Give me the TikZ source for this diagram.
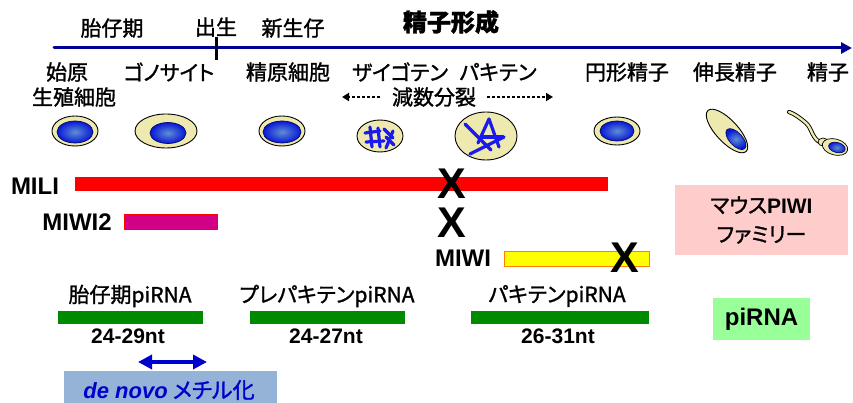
\documentclass[tikz,border=0pt]{standalone}
\usepackage{fontspec}
\setmainfont{Noto Sans CJK JP}[RawFeature={+palt;embolden=1.3}]
\newfontfamily\arialfont{Liberation Sans}
\usetikzlibrary{arrows.meta}

\definecolor{timeblue}{HTML}{000099}
\definecolor{cellyellow}{HTML}{EEE9AE}
\definecolor{nucblue}{HTML}{0818D8}
\definecolor{nuclight}{HTML}{5E8ED2}
\definecolor{chromblue}{HTML}{1A1AF0}
\definecolor{milired}{HTML}{FF0000}
\definecolor{miwiipink}{HTML}{D10087}
\definecolor{miwiyellow}{HTML}{FFFF00}
\definecolor{pirnagreen}{HTML}{008A00}
\definecolor{familypink}{HTML}{FFCCCC}
\definecolor{pirnakey}{HTML}{99FF99}
\definecolor{methylbox}{HTML}{95B3D7}
\definecolor{methblue}{HTML}{0000CC}

\begin{document}
\begin{tikzpicture}[x=1pt, y=-1pt, line cap=round, line join=round,
  lab/.style={font=\fontsize{21}{24}\selectfont, inner sep=0pt},
  prot/.style={font=\arialfont\bfseries\fontsize{24}{26}\selectfont, inner sep=0pt},
  knock/.style={font=\arialfont\bfseries\fontsize{43}{43}\selectfont, inner sep=0pt},
  ntlab/.style={font=\arialfont\bfseries\fontsize{21}{24}\selectfont, inner sep=0pt},
  cell/.style={draw=black, fill=cellyellow, line width=0.9pt},
  nucleus/.style={draw=black!55!nucblue, line width=0.7pt, inner color=nuclight, outer color=nucblue},
  chrom/.style={draw=chromblue, line width=3.2pt},
  meiarrow/.style={line cap=butt, line width=2pt, dash pattern=on 2.5pt off 2.5pt,
    -{Triangle[length=7pt, width=8pt]}},
  methylarrow/.style={methblue, line cap=butt, line width=3.5pt,
    {Triangle[length=14pt, width=14pt]}-{Triangle[length=14pt, width=14pt]}}]

\useasboundingbox (0,0) rectangle (853,403);

% --- Asse dei tempi ---
\draw[timeblue, line width=3pt, -{Triangle[length=11pt, width=11pt]}] (54,48) -- (852,48);
\draw[line width=3pt, line cap=butt] (216,37) -- (216,60);

\node[lab] (fetal) at (112,28) {胎仔期};
\node[lab] (birth) at (216,27) {出生};
\node[lab] (neonate) at (293,28) {新生仔};
\node[lab, font=\bfseries\fontsize{24}{26}\selectfont] (spermgen) at (451,22) {精子形成};

% --- Stadi delle cellule germinali ---
\node[lab] (pgc1) at (67,72) {始原};
\node[lab] (pgc2) at (74,97) {生殖細胞};
\node[lab] (gonocyte) at (169,72) {ゴノサイト};
\node[lab] (spg) at (288,72) {精原細胞};
\node[lab] (zygo) at (400,72) {ザイゴテン};
\node[lab] (pachy) at (498,72) {パキテン};
\node[lab] (round) at (627,72) {円形精子};
\node[lab] (elong) at (735,72) {伸長精子};
\node[lab] (sperm) at (828,72) {精子};

\node[lab] (meiosis) at (434,97) {減数分裂};
\coordinate (meiL) at (342,97);
\coordinate (meiR) at (553,97);
\draw[meiarrow] ([xshift=-12pt]meiosis.west) -- (meiL);
\draw[meiarrow] ([xshift=11pt]meiosis.east) -- (meiR);

% --- Cellule ---
\draw[cell] (75,131) ellipse [x radius=23, y radius=15];
\draw[nucleus] (75,132) ellipse [x radius=18, y radius=11];

\draw[cell] (166,131) ellipse [x radius=31, y radius=17];
\draw[nucleus] (168,133) ellipse [x radius=18, y radius=10.5];

\draw[cell] (282,131) ellipse [x radius=23, y radius=15];
\draw[nucleus] (282,132) ellipse [x radius=19, y radius=11];

% zigotene
\draw[cell] (380,136) ellipse [x radius=23, y radius=16];
\draw[chrom] (365,133) -- (380,131);
\draw[chrom] (370,127) -- (372,147);
\draw[chrom] (378,128) -- (380,147);
\draw[chrom] (366,142) -- (384,141);
\draw[chrom] (384,129) -- (393,138);
\draw[chrom] (393,131) -- (386,148);
\draw[chrom] (386,137) -- (394,145);

% pachitene
\draw[cell] (486,136) ellipse [x radius=31, y radius=24];
\draw[chrom] (465,124) -- (491,150);
\draw[chrom] (470,154) -- (504,137);
\draw[chrom] (489,119) -- (499,147);
\draw[chrom] (489,119) -- (478,143);
\draw[chrom] (481,137) -- (503,137);

\draw[cell] (617,131) ellipse [x radius=23, y radius=14];
\draw[nucleus] (617,131) ellipse [x radius=17, y radius=10];

% spermatide allungato
\begin{scope}[shift={(727,131)}, rotate=-47]
  \draw[cell] (0,0) ellipse [x radius=28, y radius=11];
  \draw[nucleus] (12,-1) ellipse [x radius=13, y radius=6.5];
\end{scope}

% spermatozoo
\draw[line width=4.2pt, black] (822,143) .. controls (812,140) and (812,128) .. (806,123)
  .. controls (800,118) and (795,114) .. (789,112);
\draw[line width=2.4pt, cellyellow] (822,143) .. controls (812,140) and (812,128) .. (806,123)
  .. controls (800,118) and (795,114) .. (789,112);
\draw[cell, line width=0.7pt] (823,142) ellipse [x radius=5, y radius=4];
\begin{scope}[shift={(835,147)}, rotate=-15]
  \draw[cell, line width=0.7pt] (0,0) ellipse [x radius=13, y radius=8];
  \draw[nucleus] (2,0) ellipse [x radius=8.5, y radius=5];
\end{scope}

% --- Proteine PIWI ---
\fill[milired] (75,177) rectangle (608,191);
\filldraw[fill=miwiipink, draw=red, line width=0.6pt] (124,214) rectangle (217,229);
\filldraw[fill=miwiyellow, draw=orange, line width=0.6pt] (504,251) rectangle (649,266);

\node[prot] (mili) at (35,186) {MILI};
\node[prot] (miwi2) at (77,222) {MIWI2};
\node[prot] (miwi) at (463,258) {MIWI};

\node[knock] (koMili) at (452,184) {X};
\node[knock] (koMiwi2) at (452,223) {X};
\node[knock] (koMiwi) at (625,258) {X};

\node[fill=familypink, minimum width=173pt, minimum height=70pt, inner sep=0pt,
  align=center, font=\fontsize{21}{29}\selectfont] (family) at (761.5,220)
  {マウス{\arialfont\bfseries PIWI}\\ファミリー};

% --- piRNA ---
\fill[pirnagreen] (58,311) rectangle (203,324);
\fill[pirnagreen] (250,311) rectangle (405,324);
\fill[pirnagreen] (471,311) rectangle (649,324);

\node[lab] (fetalPi) at (130,296) {胎仔期piRNA};
\node[lab] (prePi) at (327,296) {プレパキテンpiRNA};
\node[lab] (pachyPi) at (557,296) {パキテンpiRNA};

\node[ntlab] (fetalNt) at (128,336) {24-29nt};
\node[ntlab] (preNt) at (326,336) {24-27nt};
\node[ntlab] (pachyNt) at (558,336) {26-31nt};

\node[fill=pirnakey, minimum width=97pt, minimum height=42pt, inner sep=0pt, prot]
  (pirna) at (761.5,319) {piRNA};

% --- Metilazione de novo ---
\coordinate (methL) at (138,362);
\coordinate (methR) at (207,362);
\draw[methylarrow] (methL) -- (methR);

\fill[methylbox] (64,371) rectangle (277,403);
\node[text=methblue, inner sep=0pt, font=\fontsize{22}{24}\selectfont] (methyl) at (169,390)
  {{\arialfont\bfseries\itshape de novo} メチル化};
\end{tikzpicture}
\end{document}
